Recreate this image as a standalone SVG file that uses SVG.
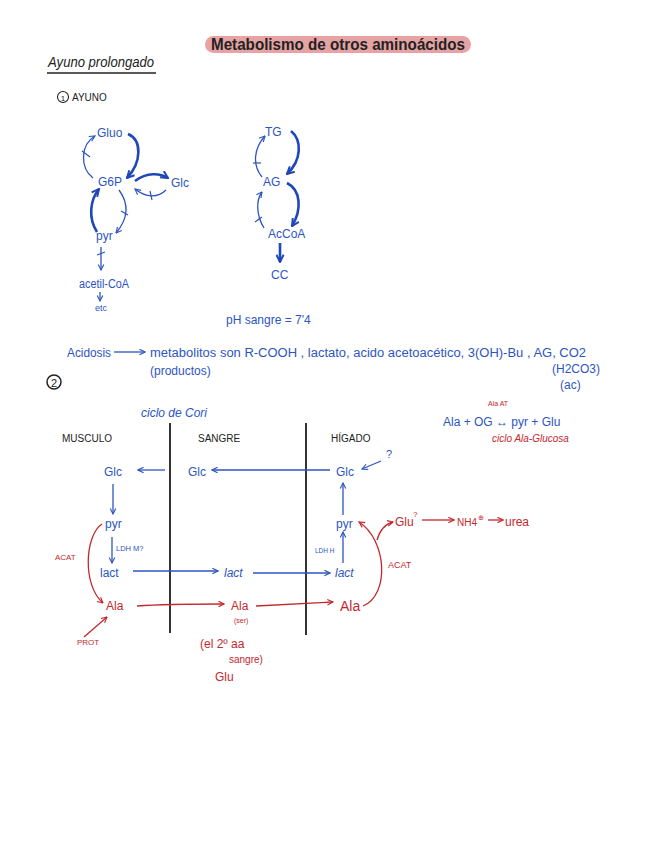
<svg xmlns="http://www.w3.org/2000/svg" width="646" height="848" viewBox="0 0 646 848">
<defs>
<marker id="ab" viewBox="0 0 10 10" refX="9" refY="5" markerWidth="7" markerHeight="7" orient="auto-start-reverse" markerUnits="userSpaceOnUse"><path d="M1,1 L9,5 L1,9" fill="none" stroke="#2d55c2" stroke-width="1.6"/></marker>
<marker id="abt" viewBox="0 0 10 10" refX="9" refY="5" markerWidth="9" markerHeight="9" orient="auto" markerUnits="userSpaceOnUse"><path d="M1,1 L9,5 L1,9" fill="none" stroke="#1f47b8" stroke-width="2.2"/></marker>
<marker id="ar" viewBox="0 0 10 10" refX="9" refY="5" markerWidth="7" markerHeight="7" orient="auto" markerUnits="userSpaceOnUse"><path d="M1,1 L9,5 L1,9" fill="none" stroke="#c3282d" stroke-width="1.6"/></marker>
<style>
text{font-family:"Liberation Sans","DejaVu Sans",sans-serif}
.b{fill:#2d55c2}
.r{fill:#c3282d}
.k{fill:#222}
.lb{fill:none;stroke:#2d55c2;stroke-width:1.3}
.lbt{fill:none;stroke:#1f47b8;stroke-width:2.6}
.lr{fill:none;stroke:#c3282d;stroke-width:1.3}
.t{font-size:12px}
.s{font-size:9px}
</style>
</defs>
<rect width="646" height="848" fill="#fff"/>

<g id="title">
<rect x="205" y="36" width="266" height="17" rx="8.5" fill="#e7a3a3"/>
<text x="338" y="50" font-size="16" font-weight="bold" text-anchor="middle" class="k" textLength="254" lengthAdjust="spacingAndGlyphs">Metabolismo de otros aminoácidos</text>
</g>
<g id="heading">
<text x="48" y="67" font-size="14" class="k" textLength="106" lengthAdjust="spacingAndGlyphs" font-style="italic">Ayuno prolongado</text>
<line x1="47" y1="73" x2="156" y2="73" stroke="#222" stroke-width="1.3"/>
<circle cx="63" cy="97" r="5.5" fill="none" stroke="#222" stroke-width="1.1"/>
<text x="63" y="100.5" font-size="8" text-anchor="middle" class="k">1</text>
<text x="72" y="101" font-size="10" class="k">AYUNO</text>
</g>

<g id="cycle1">
<text x="97" y="137" class="b t">Gluo</text>
<text x="98" y="186" class="b t">G6P</text>
<text x="171" y="187" class="b t">Glc</text>
<text x="96" y="240" class="b t">pyr</text>
<text x="79" y="288" class="b t" textLength="50" lengthAdjust="spacingAndGlyphs">acetil-CoA</text>
<text x="95" y="311" class="b s">etc</text>
</g>
<g id="cycle2">
<text x="265" y="136" class="b t">TG</text>
<text x="263" y="186" class="b t">AG</text>
<text x="268" y="238" class="b t">AcCoA</text>
<text x="271" y="279" class="b t">CC</text>
</g>

<g id="connectors1">
<path d="M128,134 C142,140 142,162 127,178" class="lbt" marker-end="url(#abt)"/>
<path d="M93,178 C80,168 80,145 95,136" class="lb" marker-end="url(#ab)"/>
<line x1="82" y1="151" x2="90" y2="157" stroke="#2d55c2" stroke-width="1.2"/>
<path d="M135,181 C147,172 160,173 168,178" class="lbt" marker-end="url(#abt)"/>
<path d="M166,190 C158,198 146,198 135,189" class="lb" marker-end="url(#ab)"/>
<line x1="150" y1="191" x2="152" y2="200" stroke="#2d55c2" stroke-width="1.2"/>
<path d="M97,232 C88,218 90,200 99,189" class="lbt" marker-end="url(#abt)"/>
<path d="M119,190 C130,205 127,220 116,233" class="lb" marker-end="url(#ab)"/>
<line x1="121" y1="211" x2="128" y2="215" stroke="#2d55c2" stroke-width="1.2"/>
<line x1="101" y1="247" x2="101" y2="270" class="lb" marker-end="url(#ab)"/>
<line x1="97" y1="255" x2="105" y2="252" stroke="#2d55c2" stroke-width="1.2"/>
<line x1="100" y1="292" x2="100" y2="301" class="lb" marker-end="url(#ab)"/>

<path d="M291,131 C302,140 302,160 287,174" class="lbt" marker-end="url(#abt)"/>
<path d="M262,177 C252,165 254,148 265,136" class="lb" marker-end="url(#ab)"/>
<line x1="253" y1="163" x2="261" y2="163" stroke="#2d55c2" stroke-width="1.2"/>
<path d="M287,183 C301,190 302,210 292,226" class="lbt" marker-end="url(#abt)"/>
<path d="M264,228 C256,215 256,200 262,192" class="lb" marker-end="url(#ab)"/>
<line x1="255" y1="222" x2="262" y2="217" stroke="#2d55c2" stroke-width="1.2"/>
<line x1="280" y1="243" x2="280" y2="262" class="lbt" marker-end="url(#abt)"/>
</g>

<g id="ph">
<text x="226" y="324" class="b t">pH  sangre = 7'4</text>
</g>
<g id="acidosis">
<text x="67" y="357" class="b t" textLength="44" lengthAdjust="spacingAndGlyphs">Acidosis</text>
<line x1="114" y1="352" x2="145" y2="352" class="lb" marker-end="url(#ab)"/>
<text x="150" y="357" class="b t" textLength="436" lengthAdjust="spacingAndGlyphs">metabolitos son  R-COOH , lactato, acido acetoacético, 3(OH)-Bu , AG, CO2</text>
<text x="150" y="375" class="b t">(productos)</text>
<text x="552" y="373" class="b t" textLength="48" lengthAdjust="spacingAndGlyphs">(H2CO3)</text>
<text x="560" y="389" class="b t">(ac)</text>
</g>

<g id="sec2">
<circle cx="54" cy="382" r="7" fill="none" stroke="#222" stroke-width="1.5"/>
<text x="54" y="386.5" font-size="11" text-anchor="middle" class="k">2</text>
<text x="141" y="417" class="b t" font-style="italic">ciclo de Cori</text>
<text x="62" y="442" font-size="10" class="k">MUSCULO</text>
<text x="198" y="442" font-size="10" class="k">SANGRE</text>
<text x="331" y="442" font-size="10" class="k">HÍGADO</text>
<line x1="170" y1="423" x2="170" y2="633" stroke="#333" stroke-width="2"/>
<line x1="306" y1="423" x2="306" y2="635" stroke="#333" stroke-width="2"/>
</g>

<g id="alaeq">
<text x="488" y="406" class="r" font-size="7">Ala AT</text>
<text x="443" y="426" class="b t">Ala + OG ↔ pyr + Glu</text>
<text x="492" y="442" class="r" font-size="10" font-style="italic">ciclo Ala-Glucosa</text>
</g>

<g id="nodes2">
<text x="104" y="476" class="b t">Glc</text>
<text x="188" y="476" class="b t">Glc</text>
<text x="336" y="476" class="b t">Glc</text>
<text x="386" y="458" class="b" font-size="11">?</text>
<text x="105" y="528" class="b t">pyr</text>
<text x="116" y="551" class="b" font-size="7.5">LDH M?</text>
<text x="100" y="577" class="b t">lact</text>
<text x="106" y="610" class="r t">Ala</text>
<text x="55" y="560" class="r" font-size="8">ACAT</text>
<text x="77" y="645" class="r" font-size="8">PROT</text>
<text x="224" y="577" class="b t" font-style="italic">lact</text>
<text x="231" y="610" class="r t">Ala</text>
<text x="234" y="623" class="r" font-size="7">(ser)</text>
<text x="200" y="648" class="r t">(el 2º aa</text>
<text x="229" y="663" class="r" font-size="10">sangre)</text>
<text x="215" y="681" class="r t">Glu</text>
<text x="336" y="528" class="b t">pyr</text>
<text x="315" y="553" class="b" font-size="6.5">LDH H</text>
<text x="335" y="577" class="b t" font-style="italic">lact</text>
<text x="340" y="611" class="r" font-size="14">Ala</text>
<text x="388" y="568" class="r" font-size="9">ACAT</text>
<text x="395" y="526" class="r t">Glu</text>
<text x="413" y="517" class="r" font-size="8">?</text>
<text x="457" y="526" class="r" font-size="10">NH4</text>
<text x="478" y="520" class="r" font-size="7">⊕</text>
<text x="505" y="526" class="r t">urea</text>
</g>

<g id="connectors2">
<line x1="165" y1="470" x2="138" y2="470" class="lb" marker-end="url(#ab)"/>
<line x1="330" y1="470" x2="212" y2="470" class="lb" marker-end="url(#ab)"/>
<line x1="381" y1="461" x2="362" y2="469" class="lb" marker-end="url(#ab)"/>
<line x1="113" y1="484" x2="113" y2="514" class="lb" marker-end="url(#ab)"/>
<line x1="112" y1="537" x2="112" y2="563" class="lb" marker-end="url(#ab)"/>
<line x1="133" y1="571" x2="218" y2="571" class="lb" marker-end="url(#ab)"/>
<line x1="253" y1="573" x2="330" y2="573" class="lb" marker-end="url(#ab)"/>
<line x1="343" y1="563" x2="343" y2="532" class="lb" marker-end="url(#ab)"/>
<line x1="343" y1="515" x2="343" y2="483" class="lb" marker-end="url(#ab)"/>
<path d="M102,524 C85,535 82,585 103,603" class="lr" marker-end="url(#ar)"/>
<line x1="84" y1="637" x2="107" y2="617" class="lr" marker-end="url(#ar)"/>
<path d="M137,606 C165,604 195,604 224,604" class="lr" marker-end="url(#ar)"/>
<path d="M256,606 C290,604 310,603 333,602" class="lr" marker-end="url(#ar)"/>
<path d="M363,606 C390,595 387,540 359,522" class="lr" marker-end="url(#ar)"/>
<path d="M377,540 C380,530 385,524 393,522" class="lr" marker-end="url(#ar)"/>
<line x1="422" y1="520" x2="454" y2="520" class="lr" marker-end="url(#ar)"/>
<line x1="488" y1="520" x2="503" y2="520" class="lr" marker-end="url(#ar)"/>
</g>
</svg>
